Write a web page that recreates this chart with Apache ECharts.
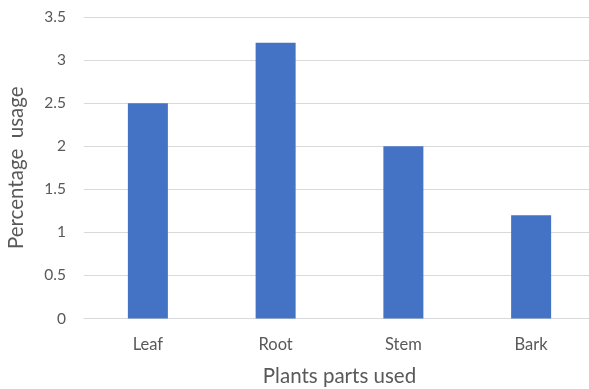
<!DOCTYPE html>
<html>
<head>
<meta charset="utf-8">
<script src="https://cdn.jsdelivr.net/npm/echarts@6/dist/echarts.min.js"></script>
<style>
  html, body { margin: 0; padding: 0; background: #fff; }
  #chart { width: 589px; height: 389px; }
</style>
</head>
<body>
<div id="chart"></div>
<script>
// Plant parts and their percentage usage
const categories = ['Leaf', 'Root', 'Stem', 'Bark'];
const usage = [2.5, 3.2, 2, 1.2];
const yTicks = [0, 0.5, 1, 1.5, 2, 2.5, 3, 3.5];

const FONT = 'Lato, "Open Sans", sans-serif';

const chart = echarts.init(document.getElementById('chart'), null, { renderer: 'canvas' });
chart.setOption({
  animation: false,
  grid: {
    left: 84, top: 17, width: 511, height: 301.5,
    containLabel: false,
    outerBoundsMode: 'none'
  },
  xAxis: {
    type: 'category',
    data: categories,
    name: 'Plants parts used',
    nameLocation: 'middle',
    nameGap: 47,
    nameTextStyle: { fontFamily: FONT, fontSize: 20.5, color: '#595959' },
    axisLine: { lineStyle: { color: '#d9d9d9', width: 1 } },
    axisTick: { show: false },
    axisLabel: { fontFamily: FONT, fontSize: 16.5, color: '#595959', margin: 18 }
  },
  yAxis: {
    type: 'value',
    min: yTicks[0],
    max: yTicks[yTicks.length - 1],
    interval: 0.5,
    name: 'Percentage  usage',
    nameLocation: 'middle',
    nameRotate: 90,
    nameGap: 57,
    nameTextStyle: { fontFamily: FONT, fontSize: 20.5, color: '#595959' },
    axisLine: { show: false },
    axisTick: { show: false },
    splitLine: { lineStyle: { color: '#d9d9d9', width: 1 } },
    axisLabel: { fontFamily: FONT, fontSize: 15.5, color: '#595959', margin: 18 }
  },
  series: [{
    type: 'bar',
    data: usage,
    barWidth: 40,
    itemStyle: { color: '#4472C4' }
  }]
});
</script>
</body>
</html>
